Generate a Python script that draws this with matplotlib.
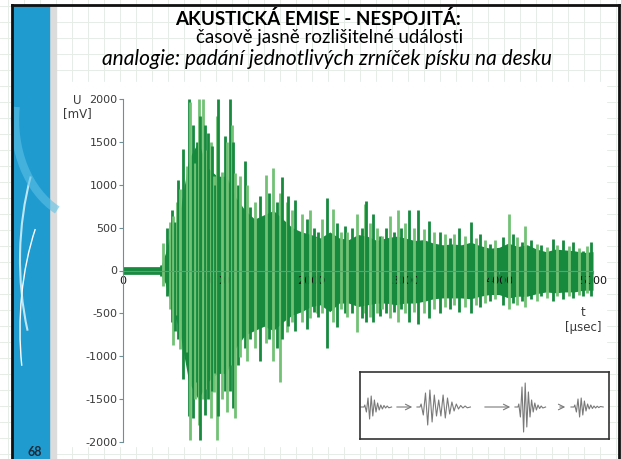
import numpy as np
import matplotlib.pyplot as plt
from matplotlib.patches import Rectangle, Arc

plt.rcParams["axes.unicode_minus"] = False

# spike peaks: time [usec], positive and negative peak [mV]
peak_t = [400, 425, 465, 500, 520, 530, 555, 575, 590, 605, 640, 680, 700, 710, 745, 765,
          785, 810, 820, 850, 870, 895, 900, 935, 945, 970, 980, 1005, 1015, 1050, 1085,
          1105, 1140, 1160, 1170, 1190, 1225, 1245, 1300, 1320, 1350, 1400, 1460, 1520,
          1550, 1600, 1640, 1670, 1690, 1745, 1755, 1800, 1830, 1900, 1955, 1990, 2030,
          2065, 2075, 2120, 2170, 2235, 2275, 2320, 2360, 2380, 2440, 2490, 2540, 2575,
          2585, 2630, 2660, 2700, 2735, 2755, 2800, 2840, 2880, 2925, 2960, 3000, 3045,
          3100, 3140, 3200, 3255, 3310, 3370, 3425, 3480, 3520, 3575, 3640, 3700, 3750,
          3800, 3850, 3900, 3960, 4040, 4105, 4150, 4190, 4240, 4280, 4340, 4400, 4450,
          4510, 4575, 4620, 4680, 4740, 4790, 4850, 4890, 4940, 4980]
peak_up = [60, 325, 500, 560, 700, 640, 560, 800, 1050, 950, 1420, 1220, 2000, 1970, 1700,
           1250, 1500, 2000, 1800, 2000, 1700, 1400, 1600, 1500, 1450, 1100, 1000, 1800,
           2000, 1150, 1570, 1500, 2000, 1700, 1500, 1140, 1000, 1100, 1280, 1000, 740,
           800, 870, 1110, 900, 1190, 800, 900, 1090, 800, 870, 700, 820, 660, 600, 700,
           500, 390, 450, 600, 840, 720, 550, 450, 520, 450, 500, 660, 500, 780, 810, 550,
           660, 500, 400, 400, 500, 630, 450, 700, 500, 550, 700, 500, 700, 480, 580, 450,
           450, 430, 380, 420, 500, 400, 560, 380, 430, 350, 310, 350, 390, 660, 420, 390,
           330, 520, 350, 310, 300, 270, 370, 300, 350, 280, 330, 260, 230, 280, 330]
peak_dn = [-60, -175, -300, -445, -600, -870, -700, -520, -800, -910, -1260, -950, -1700,
           -1980, -1725, -1500, -1300, -1800, -1980, -1500, -1690, -1380, -1500, -1725,
           -1400, -1420, -1200, -1980, -1700, -1500, -1400, -1650, -1400, -1100, -1600,
           -1720, -1100, -1010, -900, -1050, -800, -900, -1050, -850, -800, -1050, -900,
           -1300, -800, -720, -650, -600, -700, -600, -680, -550, -480, -500, -545, -500,
           -900, -600, -660, -450, -500, -545, -500, -720, -550, -500, -600, -545, -600,
           -500, -525, -450, -500, -550, -480, -600, -450, -500, -600, -480, -620, -500,
           -550, -450, -500, -420, -450, -400, -480, -420, -500, -400, -420, -380, -350,
           -330, -400, -450, -380, -400, -350, -420, -330, -350, -300, -320, -350, -300,
           -330, -300, -320, -280, -300, -260, -300]

# dense dark body of the signal
body_t = [0, 400, 450, 500, 600, 700, 800, 900, 1000, 1100, 1200, 1300, 1400, 1500,
          1600, 1700, 1800, 1900, 2000, 2100, 2200, 2300, 2400, 2500, 2600, 2700, 2800,
          2900, 3000, 3100, 3200, 3300, 3400, 3500, 3600, 3700, 3800, 3900, 4000, 4100,
          4200, 4300, 4400, 4500, 4600, 4700, 4800, 4900, 5000]
body_up = [45, 45, 200, 400, 650, 1300, 1500, 1200, 1100, 1100, 850, 700, 600, 650, 700,
           600, 500, 450, 420, 380, 450, 380, 360, 420, 400, 350, 380, 400, 380, 350, 360,
           320, 300, 310, 300, 330, 290, 260, 270, 320, 280, 300, 250, 220, 250, 240, 230,
           210, 220]
body_dn = [-45, -45, -150, -350, -700, -1300, -1500, -1300, -1200, -1200, -900, -750,
           -700, -650, -700, -600, -520, -480, -420, -400, -480, -380, -380, -420, -400,
           -380, -380, -400, -380, -380, -360, -330, -320, -320, -320, -330, -300, -280,
           -280, -320, -300, -300, -270, -250, -260, -250, -250, -230, -230]

# inset: half-cycle amplitudes of the four sketched bursts
bursts = [
    [2, 5, 9, 12, 11, 9, 7, 5, 4, 3, 2, 2, 1.5, 1, 1, 0.8],
    [3, 8, 14, 18, 17, 15, 12, 9, 7, 9, 12, 11, 9, 7, 5, 4, 3, 2, 1.5, 1, 1, 0.8],
    [3, 10, 20, 25, 24, 20, 15, 10, 7, 5, 4, 3, 2, 1.5, 1, 1],
    [2, 5, 8, 10, 9, 8, 6, 4, 3, 2, 2, 1.5, 1, 1, 0.8, 0.6, 0.5],
]
burst_start = [4, 60, 158, 214]
burst_step = [1.6, 2.2, 1.6, 1.6]
arrows = [(34, 55), (122, 153), (197, 208)]

title1 = "AKUSTICKÁ EMISE - NESPOJITÁ:"
title2 = "časově jasně rozlišitelné události"
title3 = "analogie: padání jednotlivých zrníček písku na desku"

dark = "#178a3e"
light = "#72c276"
txt = "#3a3a3a"

W, H = 621, 459
fig = plt.figure(figsize=(W / 100, H / 100), dpi=100)

# slide background in pixel coordinates
bg = fig.add_axes([0, 0, 1, 1])
bg.set_xlim(0, W)
bg.set_ylim(H, 0)
bg.axis("off")
for gx in np.arange(8, W, 16):
    bg.axvline(gx, color="#e6ece6", lw=0.7, zorder=0)
for gy in np.arange(6, H, 16):
    bg.axhline(gy, color="#e6ece6", lw=0.7, zorder=0)
bg.add_patch(Rectangle((50, 82), 556, 364, color="white", zorder=1))
# left decoration strip
bg.add_patch(Rectangle((48, 5), 8, H, color="#dcdcdc", zorder=1))
bg.add_patch(Rectangle((12, 5), 37, H, color="#1f9bcf", zorder=2))
bg.add_patch(Arc((150, 260), 260, 420, theta1=150, theta2=215, color="#bfe6f5", lw=1.5, zorder=3))
bg.add_patch(Arc((120, 330), 200, 380, theta1=160, theta2=230, color="white", lw=1.0, zorder=3))
bg.add_patch(Arc((90, 120), 150, 200, theta1=110, theta2=190, color="#5cc0e6", lw=6, alpha=0.6, zorder=3))
bg.plot([12, 12], [5, H], color="#111111", lw=2, zorder=4)
bg.plot([12, 619], [5, 5], color="#111111", lw=2, zorder=4)
bg.plot([619, 619], [5, H], color="#111111", lw=2, zorder=4)
bg.text(35, 452, "68", ha="center", va="center", fontsize=9, fontweight="bold",
        color="#1d2b3a", family="Lato")

bg.text(318, 19, title1, ha="center", va="center", fontsize=13.5, fontweight="bold",
        color="black", family="Lato")
bg.text(330, 38, title2, ha="center", va="center", fontsize=13.5, color="black", family="Lato")
bg.text(327, 59, title3, ha="center", va="center", fontsize=15, style="italic",
        color="black", family="Lato")

# axis captions
lab = dict(ha="center", va="center", fontsize=8.5, color=txt, family="Liberation Sans Narrow")
bg.text(77, 100, "U", **lab)
bg.text(77, 114, "[mV]", **lab)
bg.text(583, 312, "t", **lab)
bg.text(583, 327, "[µsec]", **lab)

# main waveform chart
x0, x1 = 123 / W, 593 / W
y0, y1 = (H - 442) / H, (H - 99) / H
ax = fig.add_axes([x0, y0, x1 - x0, y1 - y0])
ax.set_facecolor("none")
ax.set_xlim(0, 5000)
ax.set_ylim(-2000, 2000)
ax.fill_between(body_t, body_dn, body_up, color=dark, lw=0)
cols = [light if i % 2 else dark for i in range(len(peak_t))]
ax.vlines(peak_t, peak_dn, peak_up, colors=cols, lw=2.0, clip_on=False)

for s in ["top", "right"]:
    ax.spines[s].set_visible(False)
ax.spines["bottom"].set_position(("data", 0))
ax.spines["left"].set_color("#6f8f95")
ax.spines["bottom"].set_color("#6f8f95")
ax.spines["left"].set_zorder(5)
ax.spines["bottom"].set_zorder(5)
ax.set_yticks(np.arange(-2000, 2001, 500))
ax.set_xticks(np.arange(0, 5001, 1000))
ax.tick_params(axis="y", length=3, width=0.8, color="#6f8f95", labelsize=8, labelcolor=txt, pad=1)
ax.tick_params(axis="x", length=2, width=0.8, color="#6f8f95", labelsize=8, labelcolor="#111111", pad=2)
for t in ax.get_xticklabels() + ax.get_yticklabels():
    t.set_family("Liberation Sans Narrow")
    t.set_zorder(6)

# inset with sketched bursts
ins = fig.add_axes([360 / W, (H - 439) / H, 249 / W, 67 / H])
ins.set_xlim(0, 249)
ins.set_ylim(-32, 35)
ins.set_xticks([])
ins.set_yticks([])
for s in ins.spines.values():
    s.set_color("#333333")
    s.set_linewidth(1.2)
ins.set_facecolor("white")
gray = "#7a7a7a"
for (a, b) in arrows:
    ins.annotate("", xy=(b, 0), xytext=(a, 0),
                 arrowprops=dict(arrowstyle="->", color=gray, lw=0.8))
for amps, st, dx in zip(bursts, burst_start, burst_step):
    xs = [st - 3, st]
    ys = [0, 0]
    for i, a in enumerate(amps):
        xs.append(st + (i + 0.5) * dx)
        ys.append(a if i % 2 == 0 else -a)
    xs.append(st + len(amps) * dx + 2)
    ys.append(0)
    ins.plot(xs, ys, color=gray, lw=0.8)

fig.savefig("out.png", dpi=100)
